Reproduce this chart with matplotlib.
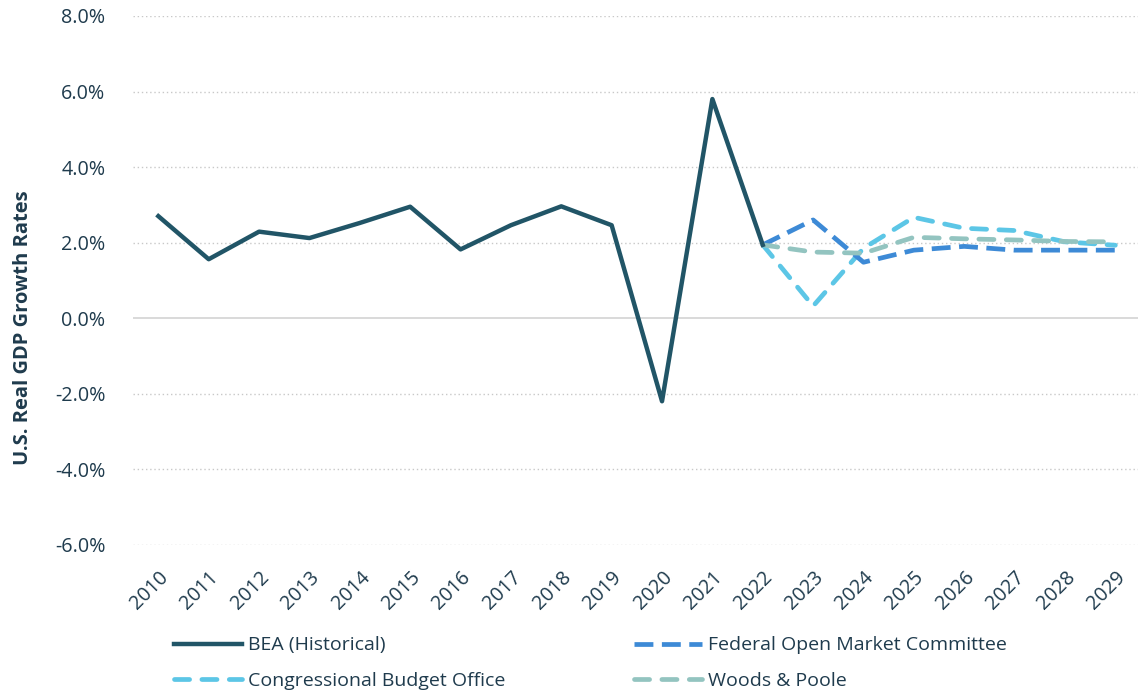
import matplotlib.pyplot as plt
import numpy as np

plt.rcParams['font.family'] = ['Open Sans', 'DejaVu Sans']

# 数据
years = list(range(2010, 2030))
bea_years = list(range(2010, 2023))
bea = [2.70, 1.56, 2.29, 2.12, 2.52, 2.95, 1.82, 2.46, 2.96, 2.46, -2.20, 5.80, 1.94]
fc_years = list(range(2022, 2030))
fomc = [1.94, 2.60, 1.48, 1.80, 1.90, 1.80, 1.80, 1.80]
cbo = [1.94, 0.32, 1.85, 2.67, 2.38, 2.32, 2.02, 1.93]
wp = [1.94, 1.75, 1.72, 2.14, 2.10, 2.07, 2.03, 2.02]

c_text = '#1F3B4D'
c_bea = '#215567'
c_fomc = '#3D8AD6'
c_cbo = '#5CC6E6'
c_wp = '#93C4C0'

fig = plt.figure(figsize=(11.38, 6.94), dpi=100)
ax = fig.add_axes([0.117, 0.215, 0.883, 0.762])

# 网格线
for v in range(-6, 9, 2):
    if v == 0:
        ax.axhline(0, color='#D3D3D3', lw=1.2, zorder=1)
    else:
        ax.axhline(v, color='#C8C8C8', lw=1.0, ls=(0, (1, 2)), zorder=1)

l_bea, = ax.plot(bea_years, bea, color=c_bea, lw=3.2, label='BEA (Historical)', zorder=5)
l_fomc, = ax.plot(fc_years, fomc, color=c_fomc, lw=3.4, ls=(0, (4, 1.8)),
                  label='Federal Open Market Committee', zorder=4)
l_cbo, = ax.plot(fc_years, cbo, color=c_cbo, lw=3.4, ls=(0, (3.2, 2.6)), dash_capstyle='round',
                 label='Congressional Budget Office', zorder=3)
l_wp, = ax.plot(fc_years, wp, color=c_wp, lw=3.4, ls=(0, (3.2, 2.6)), dash_capstyle='round',
                label='Woods & Poole', zorder=4)

ax.set_xlim(2009.5, 2029.45)
ax.set_ylim(-6, 8)
ax.set_yticks(range(-6, 9, 2))
ax.set_yticklabels([f'{v:.1f}%' for v in range(-6, 9, 2)])
ax.set_xticks(years)
ax.set_xticklabels([str(y) for y in years], rotation=45, ha='right', rotation_mode='anchor')
ax.tick_params(axis='both', length=0, labelsize=14.2, labelcolor=c_text)
ax.tick_params(axis='y', pad=20)
ax.tick_params(axis='x', pad=16)
for s in ax.spines.values():
    s.set_visible(False)

ax.set_ylabel('U.S. Real GDP Growth Rates', fontsize=14.5, fontweight='bold', color=c_text, labelpad=12)
ax.yaxis.set_label_coords(-0.1, 0.41)

fig.legend(handles=[l_bea, l_cbo, l_fomc, l_wp], ncol=2, loc='upper left',
           bbox_to_anchor=(0.153, 0.083), bbox_transform=fig.transFigure,
           frameon=False, fontsize=14, handlelength=3.5, handletextpad=0.3,
           columnspacing=6.6, labelspacing=0.9, labelcolor=c_text,
           borderaxespad=0, borderpad=0)

fig.savefig('out.png', dpi=100)
